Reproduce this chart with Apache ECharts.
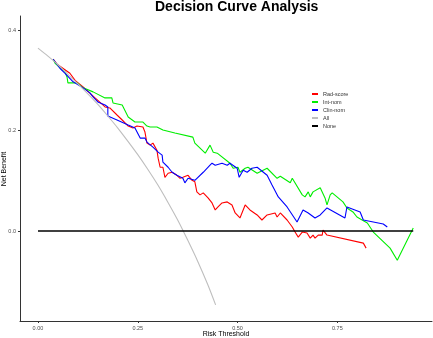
<!DOCTYPE html>
<html>
<head>
<meta charset="utf-8">
<script src="https://cdn.jsdelivr.net/npm/echarts@6/dist/echarts.min.js"></script>
<style>html,body{margin:0;padding:0;background:#fff;}#c{width:433px;height:338px;}</style>
</head>
<body>
<div id="c"></div>
<script>
// ---- data ----
const titleText = 'Decision Curve Analysis';
const xTicks = [0, 0.25, 0.5, 0.75];
const yTicks = [0, 0.2, 0.4];
const seriesNames = ['Rad-score', 'Int-nom', 'Clin-nom', 'All', 'None'];

const radScore = [[0.038,0.342],[0.048,0.332],[0.080,0.314],[0.093,0.300],[0.113,0.287],[0.143,0.265],[0.168,0.247],[0.180,0.245],[0.198,0.231],[0.211,0.221],[0.226,0.209],[0.238,0.205],[0.248,0.209],[0.263,0.207],[0.268,0.197],[0.273,0.175],[0.281,0.171],[0.288,0.175],[0.298,0.161],[0.301,0.145],[0.306,0.127],[0.313,0.127],[0.318,0.107],[0.326,0.115],[0.336,0.117],[0.348,0.111],[0.356,0.105],[0.363,0.107],[0.376,0.111],[0.386,0.101],[0.393,0.098],[0.398,0.078],[0.406,0.072],[0.414,0.076],[0.426,0.066],[0.436,0.056],[0.444,0.042],[0.451,0.048],[0.461,0.056],[0.474,0.058],[0.486,0.052],[0.494,0.036],[0.506,0.026],[0.519,0.052],[0.531,0.042],[0.549,0.032],[0.561,0.022],[0.574,0.032],[0.594,0.036],[0.599,0.028],[0.607,0.036],[0.624,0.022],[0.637,0.008],[0.644,-0.002],[0.652,-0.012],[0.662,-0.002],[0.674,-0.004],[0.682,-0.014],[0.689,-0.008],[0.694,-0.014],[0.702,-0.008],[0.712,-0.008],[0.714,0.002],[0.724,-0.008],[0.815,-0.024],[0.822,-0.034]];

const intNom = [[0.038,0.342],[0.043,0.334],[0.068,0.316],[0.073,0.306],[0.075,0.295],[0.088,0.295],[0.098,0.295],[0.113,0.285],[0.138,0.277],[0.168,0.265],[0.185,0.265],[0.188,0.255],[0.211,0.251],[0.226,0.227],[0.243,0.217],[0.263,0.217],[0.273,0.209],[0.281,0.207],[0.298,0.207],[0.313,0.201],[0.343,0.195],[0.388,0.187],[0.393,0.175],[0.419,0.155],[0.431,0.171],[0.439,0.157],[0.449,0.155],[0.481,0.135],[0.489,0.125],[0.501,0.127],[0.506,0.117],[0.519,0.125],[0.526,0.127],[0.549,0.115],[0.574,0.125],[0.599,0.105],[0.607,0.109],[0.632,0.096],[0.637,0.105],[0.662,0.072],[0.669,0.068],[0.677,0.078],[0.682,0.068],[0.689,0.078],[0.707,0.086],[0.719,0.066],[0.724,0.052],[0.732,0.072],[0.737,0.076],[0.764,0.058],[0.774,0.046],[0.789,0.038],[0.799,0.028],[0.825,0.016],[0.840,-0.002],[0.882,-0.034],[0.900,-0.058],[0.940,0.006]];

const clinNom = [[0.038,0.342],[0.055,0.324],[0.068,0.314],[0.088,0.297],[0.113,0.285],[0.130,0.275],[0.138,0.267],[0.150,0.257],[0.168,0.251],[0.175,0.247],[0.175,0.229],[0.198,0.221],[0.226,0.211],[0.243,0.205],[0.248,0.207],[0.256,0.185],[0.268,0.185],[0.273,0.177],[0.288,0.167],[0.301,0.157],[0.311,0.151],[0.313,0.137],[0.326,0.127],[0.336,0.117],[0.348,0.111],[0.363,0.105],[0.368,0.096],[0.376,0.105],[0.393,0.101],[0.414,0.117],[0.431,0.131],[0.436,0.135],[0.444,0.131],[0.461,0.135],[0.474,0.131],[0.481,0.135],[0.499,0.125],[0.504,0.107],[0.514,0.121],[0.524,0.117],[0.536,0.125],[0.549,0.127],[0.574,0.111],[0.586,0.092],[0.602,0.068],[0.624,0.048],[0.649,0.018],[0.664,0.042],[0.677,0.036],[0.694,0.026],[0.707,0.032],[0.724,0.046],[0.769,0.026],[0.774,0.048],[0.807,0.038],[0.815,0.022],[0.865,0.014],[0.875,0.008]];

const treatAll = [[0,0.364],[0.025,0.348],[0.05,0.331],[0.075,0.312],[0.10,0.293],[0.125,0.273],[0.15,0.252],[0.175,0.229],[0.20,0.205],[0.225,0.179],[0.25,0.152],[0.275,0.123],[0.30,0.092],[0.325,0.058],[0.35,0.022],[0.375,-0.018],[0.40,-0.060],[0.425,-0.106],[0.445,-0.147]];

const treatNone = [[0,0],[0.94,0]];

const seriesData = [radScore, intNom, clinNom, treatAll, treatNone];
const seriesColors = ['#ff0000', '#00ee00', '#0000ff', '#bebebe', '#000000'];
const seriesWidths = [1.1, 1.1, 1.1, 1.1, 1.6];

// ---- chart ----
const chart = echarts.init(document.getElementById('c'), null, {renderer: 'canvas'});
const tickFont = {fontFamily: 'Liberation Sans, Arial, sans-serif', fontSize: 5.5, color: '#4d4d4d'};

chart.setOption({
  animation: false,
  backgroundColor: '#ffffff',
  title: {
    text: titleText, left: 155, top: 0, padding: 0,
    textStyle: {fontFamily: 'Liberation Sans, Arial, sans-serif', fontWeight: 'bold', fontSize: 14, color: '#000'}
  },
  grid: {left: 20, right: 1, top: 16, bottom: 17, containLabel: false},
  legend: {
    orient: 'vertical', left: 312, top: 91, padding: 0, itemGap: 2,
    itemWidth: 6, itemHeight: 2,
    textStyle: {fontFamily: 'Liberation Sans, Arial, sans-serif', fontSize: 5.5, color: '#333', lineHeight: 6},
    data: seriesNames.map(n => ({name: n, icon: 'rect'}))
  },
  xAxis: {
    type: 'value', min: -0.045, max: 0.987,
    splitLine: {show: false},
    axisLine: {show: true, onZero: false, lineStyle: {color: '#333', width: 1}},
    axisTick: {show: true, length: 2, customValues: xTicks, lineStyle: {color: '#333'}},
    axisLabel: {customValues: xTicks, margin: 4, ...tickFont, formatter: v => v.toFixed(2)}
  },
  yAxis: {
    type: 'value', min: -0.179, max: 0.428,
    splitLine: {show: false},
    axisLine: {show: true, onZero: false, lineStyle: {color: '#333', width: 1}},
    axisTick: {show: true, length: 2, customValues: yTicks, lineStyle: {color: '#333'}},
    axisLabel: {customValues: yTicks, margin: 4, ...tickFont, formatter: v => v.toFixed(1)}
  },
  graphic: [
    {type: 'text', x: 226, y: 334.5, style: {text: 'Risk Threshold', fontFamily: 'Liberation Sans, Arial, sans-serif', fontSize: 7, fill: '#000', align: 'center', verticalAlign: 'middle'}},
    {type: 'text', x: 4.5, y: 169, rotation: Math.PI / 2, style: {text: 'Net Benefit', fontFamily: 'Liberation Sans, Arial, sans-serif', fontSize: 7, fill: '#000', align: 'center', verticalAlign: 'middle'}}
  ],
  series: seriesNames.map((n, i) => ({
    name: n, type: 'line', data: seriesData[i], showSymbol: false, symbol: 'none',
    smooth: i === 3 ? 0.3 : false,
    lineStyle: {color: seriesColors[i], width: seriesWidths[i]},
    itemStyle: {color: seriesColors[i]},
    emphasis: {disabled: true}, z: 2 + i
  }))
});
</script>
</body>
</html>
